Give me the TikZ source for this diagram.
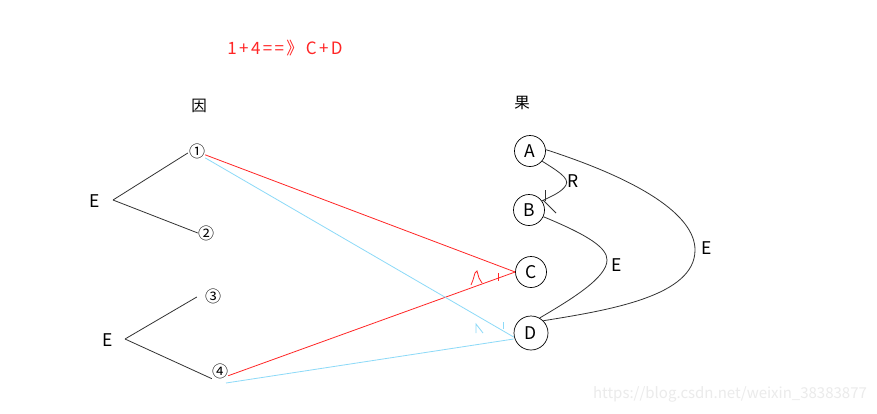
\documentclass[tikz,border=0pt]{standalone}
\usepackage{fontspec}
\setmainfont{Noto Sans CJK SC}
\begin{document}
\begin{tikzpicture}[x=1pt,y=-1pt,
  lbl/.style={inner sep=0pt,font=\fontsize{17.5}{17.5}\selectfont},
  cjk/.style={inner sep=0pt,font=\fontsize{15.5}{15.5}\selectfont},
  dig/.style={inner sep=0pt,font=\fontsize{16}{16}\selectfont},
  res/.style={draw,circle,inner sep=0pt,minimum size=31pt,line width=0.7pt,font=\fontsize{17.5}{17.5}\selectfont},
  edge/.style={line width=0.8pt,draw=black!80},
  redl/.style={line width=0.8pt,draw=red!85!white},
  bluel/.style={line width=0.8pt,draw=cyan!45!white}]
\useasboundingbox[fill=white] (0,0) rectangle (877,413);
% title
\node[inner sep=0pt,text=red!85!white,font=\fontsize{17}{17}\selectfont\addfontfeature{LetterSpace=14}] (title) at (285,48) {1+4==》C+D};
\node[cjk] (yin) at (199,106) {因};
\node[cjk] (guo) at (522,103) {果};
% causes
\node[dig] (n1) at (197,151) {①};
\node[dig] (n2) at (206,233) {②};
\node[dig] (n3) at (213,296) {③};
\node[dig] (n4) at (220,371) {④};
\node[lbl] (e1) at (95,201) {E};
\node[lbl] (e2) at (108,340) {E};
\coordinate (v1) at (113,200);
\coordinate (v2) at (125,339);
\draw[edge] (v1) -- ([shift={(-1,2)}]n1.west);
\draw[edge] (v1) -- (n2.west);
\draw[edge] (v2) -- ([xshift=-8pt,yshift=-1pt]n3.west);
\draw[edge] (v2) -- (n4.south west);
% effects
\node[res] (A) at (530,151) {A};
\node[res] (B) at (529,210) {B};
\node[res] (C) at (531,272) {C};
\node[res,minimum size=34pt] (D) at (531,333) {D};
\node[lbl] (r) at (573,181) {R};
\node[lbl] (eb) at (617,265) {E};
\node[lbl] (ea) at (707,248) {E};
% A -> B (R)
\draw[edge] (A.-40) .. controls (556,170) and (570,178) .. (566,185) .. controls (562,192) and (552,196) .. (B.35);
\draw[edge] (545,190) -- (545,201);
\draw[edge] (543,200) -- (556,213);
% B - D
\draw[edge] (B.-25) .. controls (590,236) and (607,248) .. (607,260) .. controls (607,278) and (570,300) .. (D.60);
% A - D
\draw[edge] (A.5) .. controls (640,180) and (695,215) .. (695,250) .. controls (695,296) and (610,310) .. (D.45);
% red
\draw[redl] (n1.-25) -- (C.west);
\draw[redl] (n4.-30) -- (C.west);
\draw[redl] (471,285) -- (473,280) -- (475,273) -- (477,271) -- (479,278) -- (482,283);
\draw[redl] (498,273) -- (498,281);
% blue
\draw[bluel] (n1.-40) -- ([yshift=-4pt]D.west);
\draw[bluel] ([shift={(6,12)}]n4.center) -- ([yshift=-6pt]D.west);
\draw[bluel] (476,333) -- (476,324) -- (483,333);
\draw[bluel] (503,322) -- (503,329);
% watermark
\node[inner sep=0pt,text=black!8,font=\fontsize{15}{15}\selectfont] (wm) at (730,394) {https://blog.csdn.net/weixin\_38383877};
\end{tikzpicture}
\end{document}
